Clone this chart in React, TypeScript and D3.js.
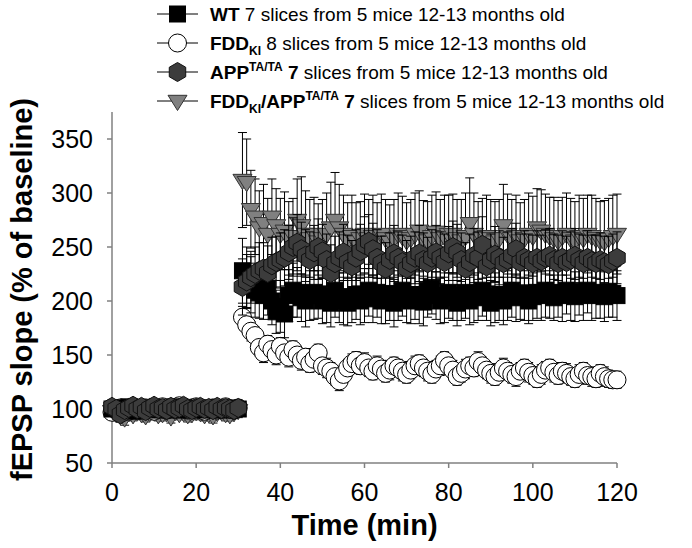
import React from 'react';
import * as d3 from 'd3';

// sampling grid (minutes)
const baselineTimes = d3.range(0, 31);
const postTimes = d3.range(31, 121);

const xTicks = [0, 20, 40, 60, 80, 100, 120];
const yTicks = [50, 100, 150, 200, 250, 300, 350];

// WT (squares)
const wtBase = [100,101,99,100,102,98,101,100,99,101,100,100,99,101,100,102,99,100,101,100,99,100,101,100,99,101,100,100,99,101,100];
const wtBaseErr = [4,5,4,3,5,4,4,5,3,4,4,5,4,3,4,5,4,4,3,5,4,4,5,4,3,4,5,4,4,3,4];
const wtPost = [
  228,222,215,210,208,205,212,200,190,195,
  188,205,210,208,203,200,205,208,206,200,
  204,198,210,203,200,198,204,206,200,205,
  210,202,208,200,203,207,198,205,210,202,
  200,206,203,199,210,212,205,200,203,208,
  204,198,205,208,200,203,207,210,204,198,
  203,206,200,205,210,203,207,205,200,204,
  208,205,210,206,203,208,205,210,207,204,
  209,206,210,205,208,206,204,209,207,205];
const wtPostErr = [
  30,28,26,25,24,22,25,22,20,24,
  22,24,25,23,22,24,23,25,22,21,
  24,22,25,23,22,21,24,23,22,25,
  24,22,23,21,24,25,22,23,24,22,
  21,23,24,22,25,24,22,21,23,24,
  22,21,23,24,22,23,25,24,22,21,
  23,24,22,23,25,22,24,23,21,22,
  24,23,25,22,21,23,24,22,25,23,
  22,24,21,23,24,22,23,24,22,23];

// FDD-KI (open circles)
const fddBase = [97,99,101,100,98,102,100,99,101,100,98,100,102,99,101,100,103,100,99,101,102,100,98,100,101,99,100,102,100,99,101];
const fddBaseErr = [4,3,4,5,3,4,4,3,5,4,3,4,4,5,3,4,4,3,4,5,4,3,4,4,3,5,4,4,3,4,4];
const fddPost = [
  185,178,172,168,157,152,160,155,150,158,
  152,148,155,150,145,148,142,146,152,140,
  138,135,130,126,132,138,142,145,140,143,
  138,135,140,137,133,136,140,138,135,132,
  136,140,142,138,135,132,137,140,145,140,
  136,130,133,137,140,138,144,140,136,133,
  130,134,138,135,132,130,135,138,134,131,
  128,132,136,138,134,131,135,133,130,128,
  132,135,131,130,128,133,130,128,127,127];
const fddPostErr = [
  10,9,9,8,8,9,8,8,9,8,
  8,9,8,8,9,8,8,9,8,8,
  9,8,8,9,8,8,9,8,8,9,
  8,8,9,8,8,9,8,8,9,8,
  8,9,8,8,9,8,8,9,8,8,
  9,8,8,9,8,8,9,8,8,9,
  8,8,9,8,8,9,8,8,9,8,
  8,9,8,8,9,8,8,9,8,8,
  9,8,8,9,8,8,9,8,8,8];

// APP TA/TA (hexagons)
const appBase = [102,100,95,99,101,103,100,102,98,101,103,100,101,99,102,100,101,103,100,99,101,102,100,101,99,102,100,101,100,99,101];
const appBaseErr = [6,5,6,5,5,6,5,5,6,5,5,6,5,5,6,5,5,6,5,5,6,5,5,6,5,5,6,5,5,6,5];
const appPost = [
  213,218,222,225,228,230,226,233,236,238,
  240,245,250,254,248,242,238,245,250,246,
  238,226,235,240,245,236,232,240,246,252,
  255,248,240,235,230,238,244,240,236,230,
  235,240,244,238,235,240,245,240,236,244,
  250,245,238,230,236,242,240,252,232,238,
  243,240,235,238,242,248,236,240,238,235,
  240,237,240,242,238,235,240,236,238,242,
  238,235,240,237,235,238,236,234,237,240];
const appPostErr = [
  26,25,24,25,26,24,25,26,24,25,
  26,25,27,26,25,24,26,25,26,25,
  24,26,25,24,26,25,24,26,25,26,
  25,24,26,25,24,25,26,24,25,26,
  25,24,26,25,24,26,25,24,26,25,
  24,26,25,24,26,25,24,26,25,24,
  26,25,24,26,25,24,26,25,24,26,
  25,24,26,25,24,26,25,24,26,25,
  24,26,25,24,26,25,24,26,25,24];

// FDD-KI / APP TA/TA (down triangles)
const triBase = [98,96,94,92,97,95,98,96,94,97,98,95,96,97,93,98,96,97,95,96,98,97,95,96,94,97,98,96,95,97,99];
const triBaseErr = [6,7,6,7,6,6,7,6,6,7,6,6,7,6,6,7,6,6,7,6,6,7,6,6,7,6,6,7,6,6,7];
const triPost = [
  312,310,285,278,268,272,262,278,270,262,
  265,258,260,275,270,262,258,262,255,258,
  262,268,275,268,262,256,260,255,258,262,
  258,260,256,262,258,255,258,262,260,256,
  258,262,265,258,256,260,264,258,260,262,
  262,258,256,260,272,262,256,258,260,258,
  255,258,270,262,258,260,256,258,262,260,
  268,265,262,260,258,256,260,262,258,256,
  260,258,262,260,258,256,255,258,260,262];
const triPostErr = [
  44,40,36,35,34,36,33,35,34,33,
  36,34,35,38,45,40,36,34,35,36,
  38,42,44,40,36,35,38,36,34,37,
  36,38,35,37,36,34,36,38,37,35,
  36,38,37,35,36,38,37,36,38,36,
  37,36,38,40,42,38,36,37,38,36,
  37,36,38,37,36,38,35,36,38,37,
  36,38,37,36,38,37,36,38,37,36,
  38,37,36,38,37,36,38,37,38,37];

const W = 692, H = 548;
const x = d3.scaleLinear().domain([0, 120]).range([112, 617]);
const y = d3.scaleLinear().domain([50, 375]).range([463, 112]);

type Pt = { t: number; v: number; e: number };
function build(base: number[], baseErr: number[], post: number[], postErr: number[]): Pt[] {
  const a = baselineTimes.map((t, i) => ({ t, v: base[i], e: baseErr[i] }));
  const b = postTimes.map((t, i) => ({ t, v: post[i], e: postErr[i] }));
  return a.concat(b);
}

const hexPath = (r: number) => {
  const pts = d3.range(6).map(k => {
    const a = (-90 + 60 * k) * Math.PI / 180;
    return [r * Math.cos(a), r * Math.sin(a)];
  });
  return 'M' + pts.map(p => p.join(',')).join('L') + 'Z';
};
const triPath = (s: number) => `M${-s},${-s * 0.6}L${s},${-s * 0.6}L0,${s}Z`;

type Kind = 'square' | 'circle' | 'hex' | 'tri';
const Marker = ({ kind, cx, cy }: { kind: Kind; cx: number; cy: number }) => {
  if (kind === 'square') return <rect x={cx - 8} y={cy - 8} width={16} height={16} fill="#000" stroke="#000" strokeWidth={1} />;
  if (kind === 'circle') return <circle cx={cx} cy={cy} r={9} fill="#fff" stroke="#000" strokeWidth={1} />;
  if (kind === 'hex') return <path d={hexPath(9.5)} transform={`translate(${cx},${cy})`} fill="#3c3c3c" stroke="#111" strokeWidth={1} />;
  return <path d={triPath(9.5)} transform={`translate(${cx},${cy})`} fill="#808080" stroke="#333" strokeWidth={1} />;
};

const Series = ({ data, kind }: { data: Pt[]; kind: Kind }) => (
  <g>
    {data.map((d, i) => {
      const cx = x(d.t);
      const y1 = y(d.v + d.e), y2 = y(d.v - d.e);
      return (
        <g key={'e' + i} stroke="#000" strokeWidth={1}>
          <line x1={cx} x2={cx} y1={y1} y2={y2} />
          <line x1={cx - 4.5} x2={cx + 4.5} y1={y1} y2={y1} />
          <line x1={cx - 4.5} x2={cx + 4.5} y1={y2} y2={y2} />
        </g>
      );
    })}
    {data.map((d, i) => <Marker key={'m' + i} kind={kind} cx={x(d.t)} cy={y(d.v)} />)}
  </g>
);

const font = '"Liberation Sans", Arial, Helvetica, sans-serif';

export default function App() {
  const wt = build(wtBase, wtBaseErr, wtPost, wtPostErr);
  const fdd = build(fddBase, fddBaseErr, fddPost, fddPostErr);
  const app = build(appBase, appBaseErr, appPost, appPostErr);
  const tri = build(triBase, triBaseErr, triPost, triPostErr);

  const legendRows: { kind: Kind; cy: number }[] = [
    { kind: 'square', cy: 14 },
    { kind: 'circle', cy: 43 },
    { kind: 'hex', cy: 72 },
    { kind: 'tri', cy: 101 },
  ];
  const lx = 210;
  const fs = 19;
  const sub = 12;

  return (
    <svg width={W} height={H} style={{ position: 'absolute', left: 0, top: 0, background: '#fff' }} fontFamily={font}>
      {/* legend */}
      {legendRows.map((r, i) => (
        <g key={i}>
          <line x1={157} x2={198} y1={r.cy} y2={r.cy} stroke="#000" strokeWidth={1} />
          <Marker kind={r.kind} cx={177.5} cy={r.cy} />
        </g>
      ))}
      <text x={lx} y={14 + 7} fontSize={fs} fill="#000">
        <tspan fontWeight="bold">WT</tspan> 7 slices from 5 mice 12-13 months old
      </text>
      <text x={lx} y={43 + 7} fontSize={fs} fill="#000">
        <tspan fontWeight="bold">FDD</tspan>
        <tspan fontWeight="bold" fontSize={sub} dy={5}>KI</tspan>
        <tspan dy={-5}> 8 slices from 5 mice 12-13 months old</tspan>
      </text>
      <text x={lx} y={72 + 7} fontSize={fs} fill="#000">
        <tspan fontWeight="bold">APP</tspan>
        <tspan fontWeight="bold" fontSize={sub} dy={-8}>TA/TA</tspan>
        <tspan fontWeight="bold" dy={8}> 7</tspan>
        <tspan> slices from 5 mice 12-13 months old</tspan>
      </text>
      <text x={lx} y={101 + 7} fontSize={fs} fill="#000">
        <tspan fontWeight="bold">FDD</tspan>
        <tspan fontWeight="bold" fontSize={sub} dy={5}>KI</tspan>
        <tspan fontWeight="bold" dy={-5}>/APP</tspan>
        <tspan fontWeight="bold" fontSize={sub} dy={-8}>TA/TA</tspan>
        <tspan fontWeight="bold" dy={8}> 7</tspan>
        <tspan> slices from 5 mice 12-13 months old</tspan>
      </text>

      {/* axes */}
      <g stroke="#808080" strokeWidth={1.5}>
        <line x1={x(0)} x2={x(0)} y1={y(375)} y2={y(50)} />
        <line x1={x(0)} x2={x(120)} y1={y(50)} y2={y(50)} />
        {yTicks.map(v => <line key={'yt' + v} x1={x(0) - 5} x2={x(0)} y1={y(v)} y2={y(v)} />)}
        {xTicks.map(t => <line key={'xt' + t} x1={x(t)} x2={x(t)} y1={y(50)} y2={y(50) + 5} />)}
      </g>
      {yTicks.map(v => (
        <text key={'yl' + v} x={x(0) - 19} y={y(v)} dy="0.35em" textAnchor="end" fontSize={25} fill="#000">{v}</text>
      ))}
      {xTicks.map(t => (
        <text key={'xl' + t} x={x(t)} y={y(50) + 38} textAnchor="middle" fontSize={25} fill="#000">{t}</text>
      ))}
      <text x={(x(0) + x(120)) / 2} y={535} textAnchor="middle" fontSize={29} fontWeight="bold" fill="#000">Time (min)</text>
      <text transform={`translate(32,${(y(50) + y(375)) / 2 + 2}) rotate(-90)`} textAnchor="middle" fontSize={29} fontWeight="bold" fill="#000">fEPSP slope (% of baseline)</text>

      {/* data */}
      <Series data={tri} kind="tri" />
      <Series data={fdd} kind="circle" />
      <Series data={wt} kind="square" />
      <Series data={app} kind="hex" />
    </svg>
  );
}
